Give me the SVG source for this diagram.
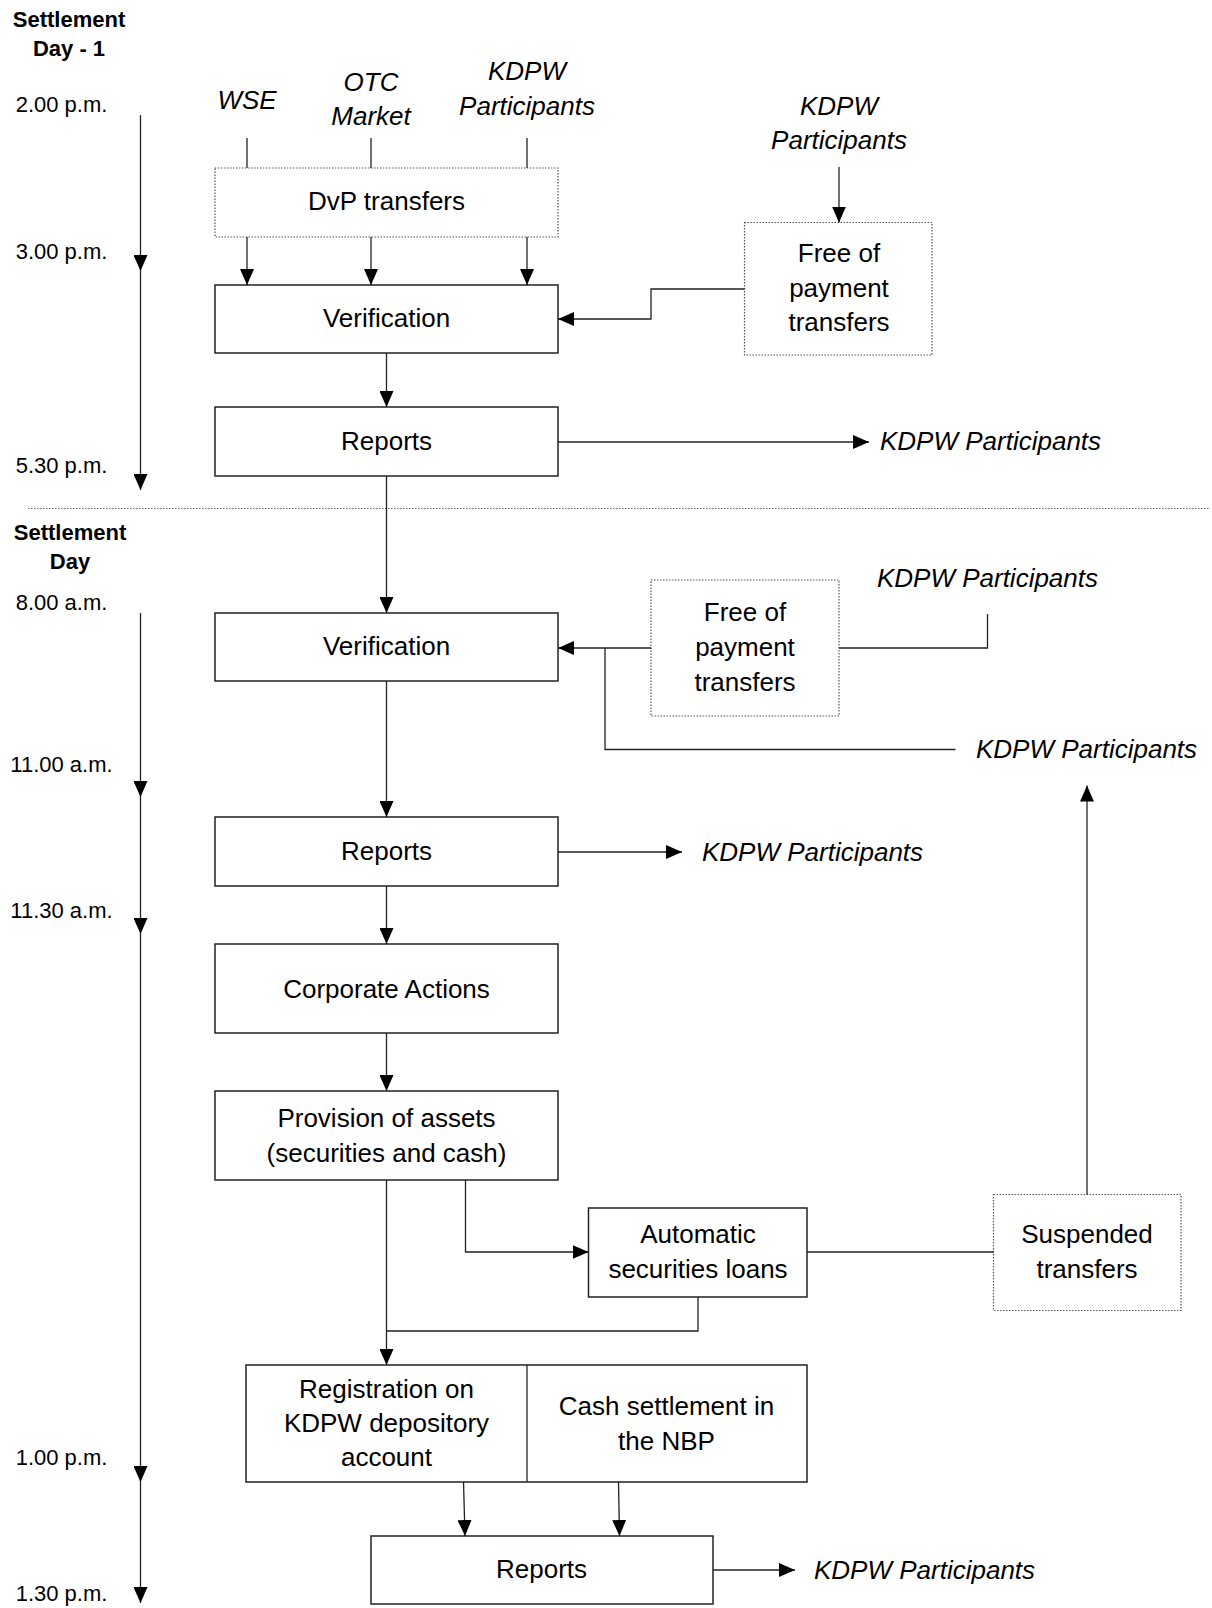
<svg xmlns="http://www.w3.org/2000/svg" width="1212" height="1608" viewBox="0 0 1212 1608">
<defs>
<style>
.box{fill:#fff;stroke:#222;stroke-width:1.5}
.dbox{fill:#fff;stroke:#555;stroke-width:1.2;stroke-dasharray:1.5 1.5}
.ln{fill:none;stroke:#222;stroke-width:1.3}
.t{font-family:"Liberation Sans",Arial,sans-serif;font-size:26px;fill:#000;text-anchor:middle}
.it{font-family:"Liberation Sans",Arial,sans-serif;font-size:26px;font-style:italic;fill:#000}
.tm{font-family:"Liberation Sans",Arial,sans-serif;font-size:22px;fill:#000;text-anchor:middle}
.hd{font-family:"Liberation Sans",Arial,sans-serif;font-size:22px;font-weight:bold;fill:#000;text-anchor:middle}
</style>
<marker id="ah" markerUnits="userSpaceOnUse" markerWidth="16" markerHeight="14" refX="16" refY="7" orient="auto" viewBox="0 0 16 14">
<path d="M0,0 L16,7 L0,14 z" fill="#000"/>
</marker>
</defs>
<rect width="1212" height="1608" fill="#fff"/>

<g id="timeline">
<text class="hd" x="69" y="26.5">Settlement</text>
<text class="hd" x="69" y="55.5">Day - 1</text>
<text class="tm" x="61.5" y="112">2.00 p.m.</text>
<text class="tm" x="61.5" y="259">3.00 p.m.</text>
<text class="tm" x="61.5" y="472.5">5.30 p.m.</text>
<path class="ln" d="M140.5,115 V271" marker-end="url(#ah)"/>
<path class="ln" d="M140.5,271 V490" marker-end="url(#ah)"/>
<line x1="28" y1="508.5" x2="1210" y2="508.5" stroke="#666" stroke-width="1" stroke-dasharray="1.5 1.5"/>
<text class="hd" x="70" y="539.5">Settlement</text>
<text class="hd" x="70" y="568.5">Day</text>
<text class="tm" x="61.5" y="610">8.00 a.m.</text>
<text class="tm" x="61.5" y="772">11.00 a.m.</text>
<text class="tm" x="61.5" y="917.5">11.30 a.m.</text>
<text class="tm" x="61.5" y="1465">1.00 p.m.</text>
<text class="tm" x="61.5" y="1600.5">1.30 p.m.</text>
<path class="ln" d="M140.5,613 V797" marker-end="url(#ah)"/>
<path class="ln" d="M140.5,797 V934" marker-end="url(#ah)"/>
<path class="ln" d="M140.5,934 V1482" marker-end="url(#ah)"/>
<path class="ln" d="M140.5,1482 V1603" marker-end="url(#ah)"/>
</g>

<g id="labels">
<text class="it" x="247" y="108.5" text-anchor="middle">WSE</text>
<text class="it" x="371" y="91" text-anchor="middle">OTC</text>
<text class="it" x="371" y="125" text-anchor="middle">Market</text>
<text class="it" x="527" y="80" text-anchor="middle">KDPW</text>
<text class="it" x="527" y="115" text-anchor="middle">Participants</text>
<text class="it" x="839" y="115" text-anchor="middle">KDPW</text>
<text class="it" x="839" y="148.5" text-anchor="middle">Participants</text>
<text class="it" x="880" y="450">KDPW Participants</text>
<text class="it" x="987.5" y="587" text-anchor="middle">KDPW Participants</text>
<text class="it" x="976" y="757.5">KDPW Participants</text>
<text class="it" x="702" y="861">KDPW Participants</text>
<text class="it" x="814" y="1579">KDPW Participants</text>
</g>

<g id="dvp">
<rect class="dbox" x="215" y="168" width="343" height="69"/>
<text class="t" x="386.5" y="210">DvP transfers</text>
</g>
<g id="verification1">
<rect class="box" x="215" y="285" width="343" height="68"/>
<text class="t" x="386.5" y="327">Verification</text>
</g>
<g id="fop1">
<rect class="dbox" x="744.5" y="222.5" width="187.5" height="132.5"/>
<text class="t" x="839" y="262">Free of</text>
<text class="t" x="839" y="297">payment</text>
<text class="t" x="839" y="331">transfers</text>
</g>
<g id="reports1">
<rect class="box" x="215" y="407" width="343" height="69"/>
<text class="t" x="386.5" y="450">Reports</text>
</g>
<g id="verification2">
<rect class="box" x="215" y="613" width="343" height="68"/>
<text class="t" x="386.5" y="655">Verification</text>
</g>
<g id="fop2">
<rect class="dbox" x="651" y="580" width="188" height="136"/>
<text class="t" x="745" y="621">Free of</text>
<text class="t" x="745" y="656">payment</text>
<text class="t" x="745" y="691">transfers</text>
</g>
<g id="reports2">
<rect class="box" x="215" y="817" width="343" height="69"/>
<text class="t" x="386.5" y="860">Reports</text>
</g>
<g id="corporate">
<rect class="box" x="215" y="944" width="343" height="89"/>
<text class="t" x="386.5" y="997.5">Corporate Actions</text>
</g>
<g id="provision">
<rect class="box" x="215" y="1091" width="343" height="89"/>
<text class="t" x="386.5" y="1127">Provision of assets</text>
<text class="t" x="386.5" y="1161.5">(securities and cash)</text>
</g>
<g id="loans">
<rect class="box" x="588.5" y="1208" width="218.5" height="89"/>
<text class="t" x="698" y="1242.5">Automatic</text>
<text class="t" x="698" y="1277.5">securities loans</text>
</g>
<g id="suspended">
<rect class="dbox" x="993.5" y="1194.5" width="187.5" height="116"/>
<text class="t" x="1087" y="1242.5">Suspended</text>
<text class="t" x="1087" y="1277.5">transfers</text>
</g>
<g id="settlement">
<rect class="box" x="246" y="1365" width="561" height="117"/>
<line x1="527" y1="1365" x2="527" y2="1482" stroke="#222" stroke-width="1.3"/>
<text class="t" x="386.5" y="1397.5">Registration on</text>
<text class="t" x="386.5" y="1432">KDPW depository</text>
<text class="t" x="386.5" y="1466">account</text>
<text class="t" x="666.5" y="1415">Cash settlement in</text>
<text class="t" x="666.5" y="1450">the NBP</text>
</g>
<g id="reports3">
<rect class="box" x="371" y="1536" width="342" height="68"/>
<text class="t" x="541.5" y="1578">Reports</text>
</g>

<g id="connectors">
<path class="ln" d="M247,138 V168"/>
<path class="ln" d="M371,138 V168"/>
<path class="ln" d="M527,138 V168"/>
<path class="ln" d="M247,237 V285" marker-end="url(#ah)"/>
<path class="ln" d="M371,237 V285" marker-end="url(#ah)"/>
<path class="ln" d="M527,237 V285" marker-end="url(#ah)"/>
<path class="ln" d="M839,167 V222.5" marker-end="url(#ah)"/>
<path class="ln" d="M744.5,289 H651 V319 H558" marker-end="url(#ah)"/>
<path class="ln" d="M386.5,353 V407" marker-end="url(#ah)" stroke-width="2"/>
<path class="ln" d="M558,442 H869" marker-end="url(#ah)"/>
<path class="ln" d="M386.5,476 V613" marker-end="url(#ah)"/>
<path class="ln" d="M987.5,614 V648 H839"/>
<path class="ln" d="M651,648 H558" marker-end="url(#ah)"/>
<path class="ln" d="M605,648 V749.5 H955.5"/>
<path class="ln" d="M386.5,681 V817" marker-end="url(#ah)"/>
<path class="ln" d="M558,852 H682" marker-end="url(#ah)"/>
<path class="ln" d="M386.5,886 V944" marker-end="url(#ah)"/>
<path class="ln" d="M386.5,1033 V1091" marker-end="url(#ah)"/>
<path class="ln" d="M386.5,1180 V1365" marker-end="url(#ah)"/>
<path class="ln" d="M465.5,1180 V1252 H588.5" marker-end="url(#ah)"/>
<path class="ln" d="M807,1252 H993.5"/>
<path class="ln" d="M1087,1194.5 V785.5" marker-end="url(#ah)"/>
<path class="ln" d="M698,1297 V1331 H386.5"/>
<path class="ln" d="M463.5,1482 L465,1536" marker-end="url(#ah)"/>
<path class="ln" d="M618.5,1482 L619.5,1536" marker-end="url(#ah)"/>
<path class="ln" d="M713,1570 H795" marker-end="url(#ah)"/>
</g>
</svg>
